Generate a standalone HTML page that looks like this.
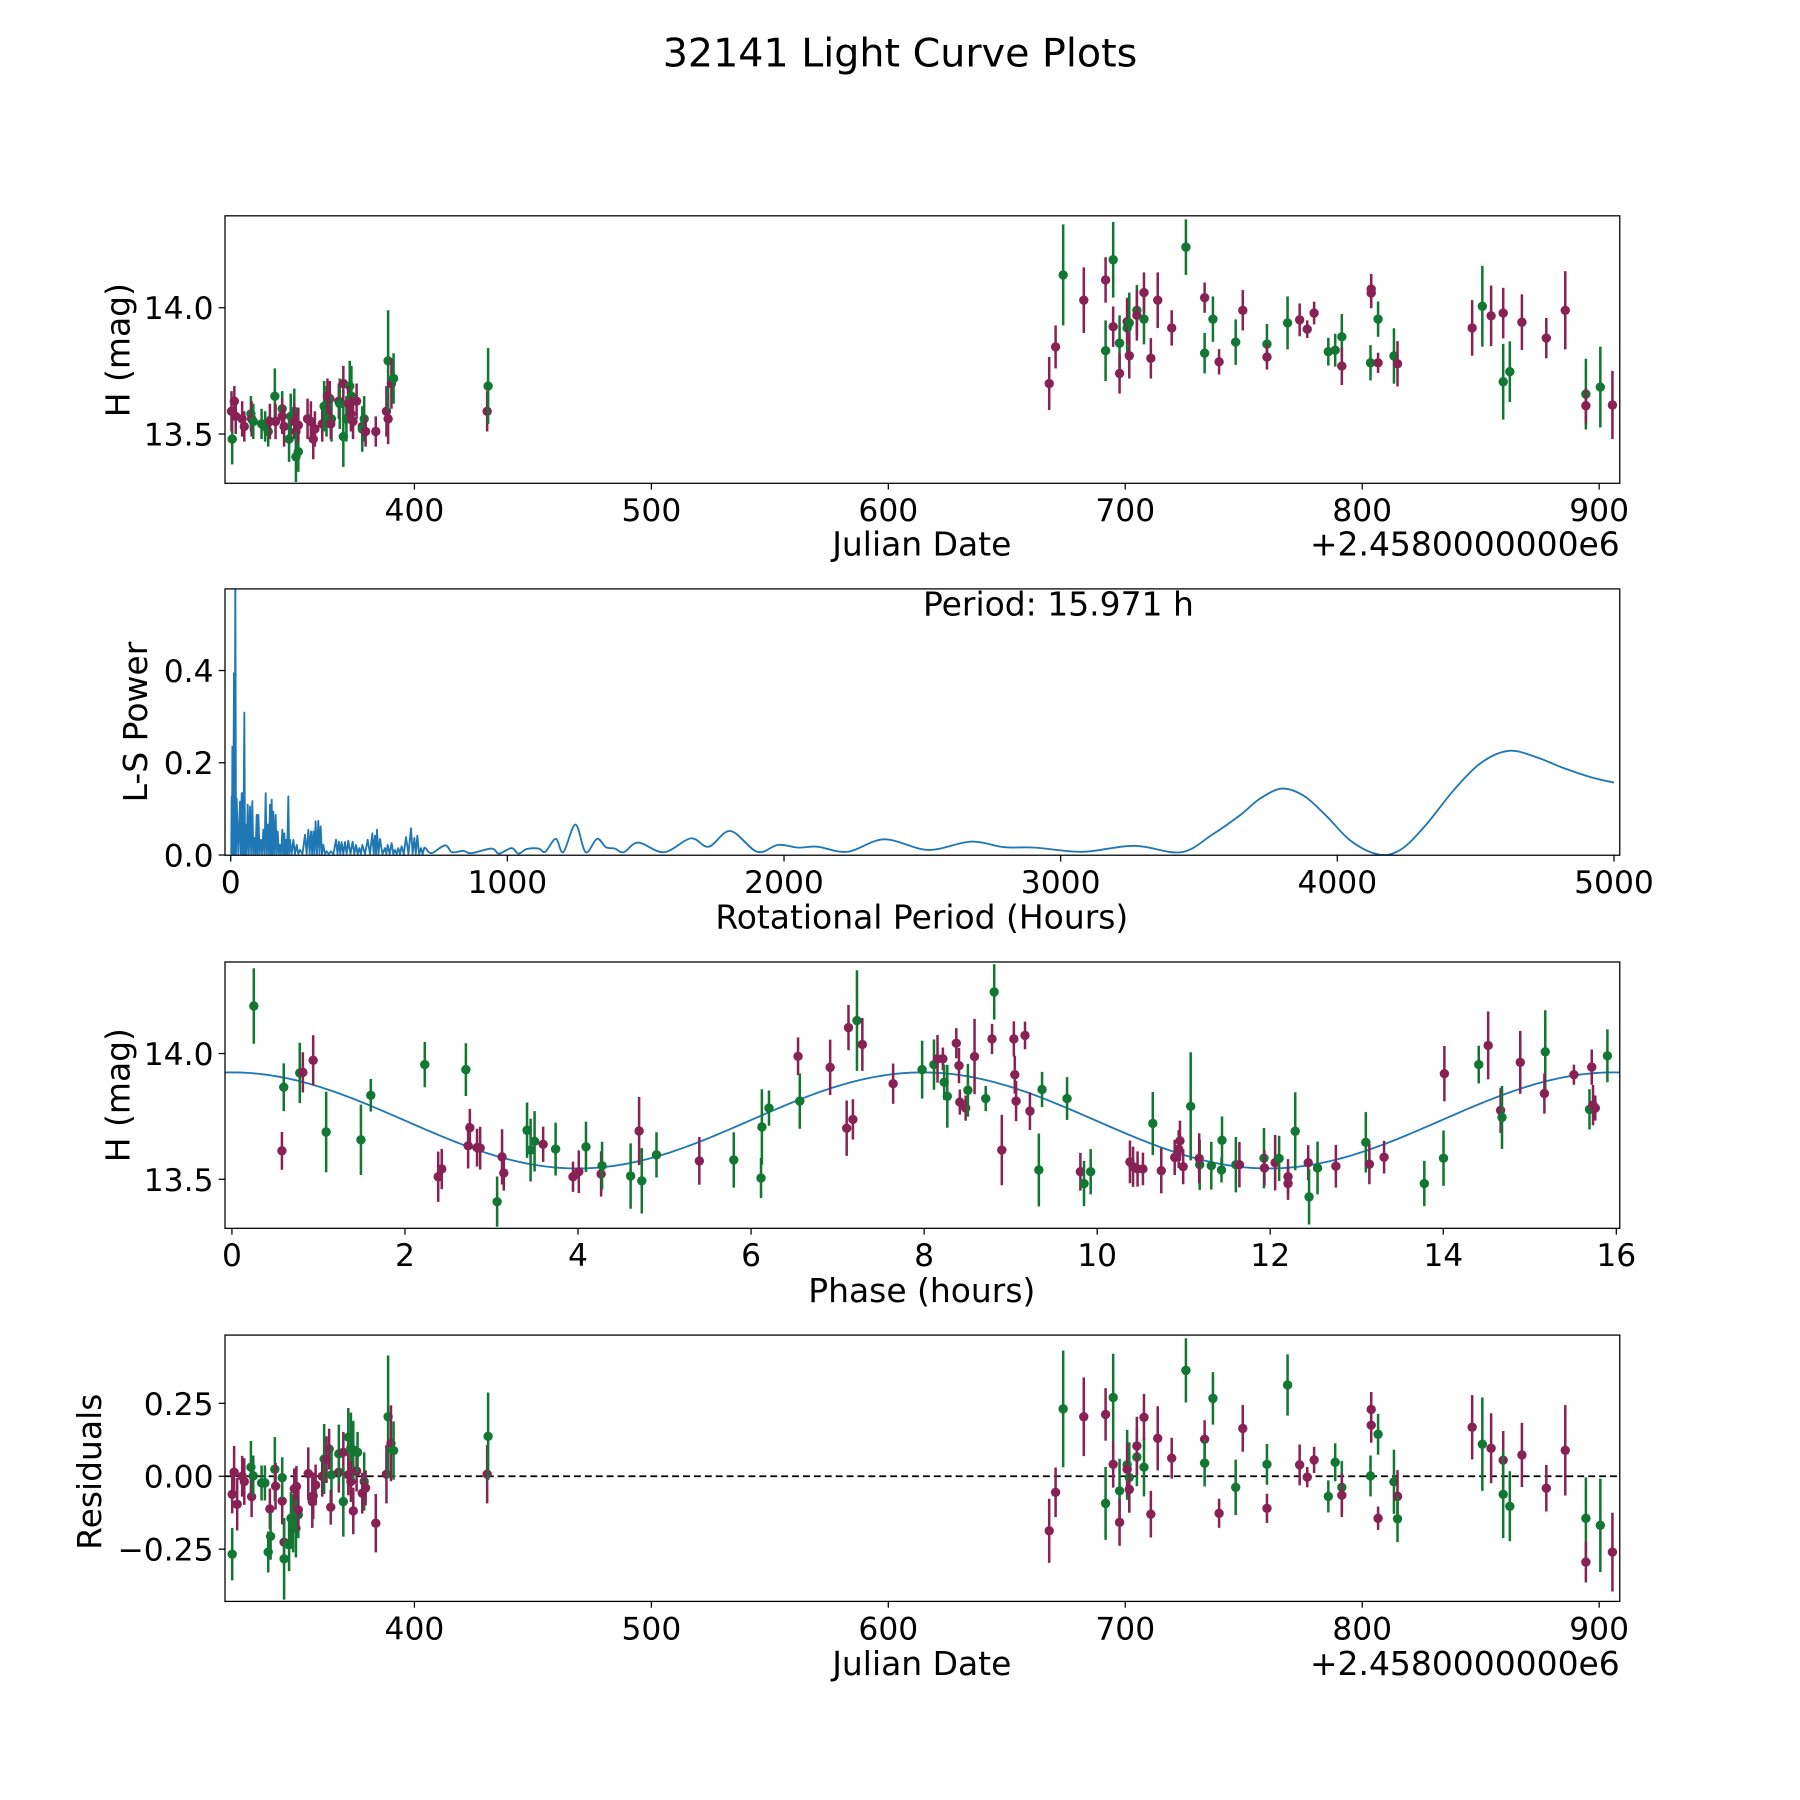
<!DOCTYPE html>
<html><head><meta charset="utf-8"><title>32141 Light Curve Plots</title>
<style>html,body{margin:0;padding:0;background:#fff}svg{display:block}text{font-family:"DejaVu Sans","Liberation Sans",sans-serif;fill:#000}</style>
</head><body>
<svg id="fig" xmlns="http://www.w3.org/2000/svg" width="1800" height="1800" viewBox="0 0 1568 1568">
<rect x="0" y="0" width="1568" height="1568" fill="#fff"/>
<text x="784" y="58" font-size="34.5" text-anchor="middle">32141 Light Curve Plots</text>
</svg>
<script>
// ---- Panel 1: magnitude vs Julian date ----
const p1Jd=[323.1,322.8,324,324.6,327.3,328.2,331,331.3,332,335.5,337,338.3,339,341.1,341.4,344.2,344.2,345,347.1,347.8,349.3,349.3,350,350,351,351,354.9,356.3,357.3,358,361.1,361.9,362.9,363.3,364.3,365,364.7,368.1,368.5,370,370,371.3,372.7,372,373.4,373.2,374.1,375.6,378.8,378,378,379.4,383.7,388.2,388.9,388.9,390.3,391.2,430.7,431.1,
667.9,670.6,673.8,682.5,691.7,691.7,694.9,694.9,697.6,697.6,700.8,700.8,701.7,701.7,704.9,704.9,707.9,707.9,710.8,713.7,719.6,725.6,733.5,733.5,737.0,739.6,746.6,749.6,759.8,759.8,768.5,773.6,776.8,779.7,785.7,788.6,791.4,791.4,803.8,803.8,806.7,803.5,806.7,813.4,814.9,846.4,850.7,854.4,859.5,859.5,862.3,867.4,877.7,885.7,894.4,894.4,900.5,905.6];
const p1Mag=[13.48,13.59,13.63,13.57,13.56,13.53,13.58,13.56,13.55,13.54,13.53,13.51,13.55,13.65,13.55,13.60,13.57,13.53,13.48,13.57,13.59,13.55,13.51,13.41,13.43,13.535,13.56,13.55,13.48,13.52,13.54,13.61,13.59,13.65,13.64,13.56,13.54,13.63,13.62,13.49,13.70,13.56,13.69,13.62,13.65,13.58,13.55,13.63,13.56,13.53,13.52,13.51,13.51,13.59,13.56,13.79,13.70,13.72,13.59,13.69,
13.70,13.845,14.13,14.03,14.11,13.83,14.19,13.925,13.86,13.74,13.92,13.945,13.94,13.81,13.99,13.97,13.955,14.06,13.80,14.03,13.92,14.24,14.04,13.82,13.955,13.786,13.864,13.99,13.856,13.805,13.94,13.952,13.915,13.979,13.826,13.832,13.885,13.769,14.074,14.058,13.955,13.782,13.782,13.809,13.778,13.92,14.006,13.968,13.979,13.707,13.747,13.943,13.88,13.99,13.658,13.612,13.686,13.615];
const p1Err=[0.10,0.08,0.06,0.07,0.07,0.06,0.07,0.07,0.07,0.06,0.06,0.06,0.07,0.11,0.07,0.07,0.07,0.08,0.09,0.09,0.09,0.07,0.07,0.10,0.08,0.07,0.08,0.08,0.08,0.07,0.07,0.10,0.10,0.07,0.07,0.09,0.06,0.07,0.10,0.12,0.07,0.09,0.10,0.07,0.12,0.07,0.07,0.07,0.09,0.07,0.09,0.06,0.06,0.10,0.10,0.20,0.10,0.10,0.08,0.15,
0.105,0.085,0.20,0.13,0.09,0.12,0.15,0.08,0.11,0.08,0.12,0.09,0.12,0.09,0.10,0.10,0.10,0.08,0.08,0.11,0.07,0.11,0.06,0.08,0.09,0.05,0.09,0.08,0.08,0.05,0.105,0.065,0.035,0.045,0.055,0.065,0.09,0.075,0.06,0.06,0.07,0.07,0.04,0.11,0.09,0.11,0.16,0.12,0.10,0.15,0.12,0.11,0.08,0.155,0.14,0.07,0.16,0.135];
const p1Band=['g','r','r','r','r','r','g','r','g','g','g','g','r','g','r','g','r','r','g','g','g','r','r','g','g','r','r','r','r','r','r','g','g','r','r','g','r','r','g','g','r','g','g','r','g','r','r','r','g','r','g','r','r','r','r','g','r','g','r','g',
'r','r','g','r','r','g','g','r','g','r','g','r','g','r','g','r','g','r','r','r','r','g','r','g','g','r','g','r','g','r','g','r','r','r','g','g','g','r','r','r','g','g','r','g','r','r','g','r','r','g','g','r','r','r','g','r','g','r'];

// ---- Panel 2: Lomb-Scargle periodogram ----
const spikePeriods=[3.4,5.8,11.8,16.6,21.5,33.5,39.5,42,49.2,54,61.2,69.7,78.1,85.3,93.8,99.8,109.4,117.9,126.3,133.5,142,148,154,162.4,169.7,178.1,186.5,193.8,199.8,208.2,214.2,226.3,238.3,250.4,268.4,280.5,290.1,298.6,306.7,316.6,325,334.7,346.8,362.4,380.5,391.3,401,413,425,440.7,452.8,464.8,475.7,495,511.8,521.5,528.7,539.5,557.6,567.2,581.7,593.7,605.8,617.8,633.5,651.6,663.6,674.5,687.7,699.8];
const spikePower=[0.127,0.235,0.394,0.62,0.123,0.116,0.134,0.134,0.309,0.066,0.109,0.105,0.117,0.037,0.087,0.087,0.033,0.055,0.134,0.066,0.109,0.12,0.094,0.087,0.051,0.022,0.055,0.047,0.033,0.127,0.033,0.033,0.022,0.011,0.044,0.055,0.051,0.051,0.073,0.074,0.062,0.022,0.008,0.008,0.033,0.029,0.028,0.028,0.031,0.029,0.022,0.015,0.022,0.033,0.047,0.042,0.055,0.035,0.015,0.022,0.026,0.011,0.015,0.019,0.039,0.058,0.037,0.042,0.015,0.016];
const smoothPeriods=[706,726,775,800,840,870,943,970,1015,1040,1070,1113,1137,1175,1202,1246,1283,1324,1356,1388,1421,1473,1566,1663,1728,1806,1903,1979,2052,2120,2230,2362,2521,2675,2796,2909,3079,3265,3435,3550,3650,3720,3800,3880,3960,4050,4150,4230,4320,4420,4520,4620,4720,4820,4920,5000];
const smoothPower=[0.014,0.004,0.021,0.006,0.009,0.004,0.014,0.003,0.015,0.003,0.013,0.014,0.007,0.035,0.006,0.066,0.006,0.035,0.017,0.014,0.006,0.027,0.006,0.036,0.018,0.052,0.007,0.022,0.016,0.018,0.007,0.034,0.011,0.029,0.017,0.016,0.007,0.020,0.006,0.045,0.087,0.122,0.144,0.128,0.085,0.030,0.001,0.012,0.065,0.140,0.200,0.226,0.212,0.188,0.168,0.157];
const periodLabel='Period: 15.971 h';

// ---- Panel 3: phase-folded ----
const p3Phase=[0.253,0.599,0.578,0.784,0.82,0.939,1.089,1.491,1.605,2.229,2.384,2.425,2.704,2.73,2.75,2.833,2.869,3.065,3.122,3.142,3.411,3.452,3.498,3.597,3.741,3.942,4.009,4.092,4.267,4.278,4.608,4.706,4.737,4.907,5.402,5.8,6.115,6.125,6.207,6.543,6.563,6.914,7.105,7.126,7.177,7.224,7.286,7.642,7.977,
8.114,8.155,8.217,8.232,8.268,8.372,8.403,8.413,8.48,8.506,8.583,8.712,8.785,8.81,8.898,9.037,9.048,9.063,9.166,9.223,9.326,9.363,9.652,9.806,9.848,9.925,10.379,10.415,10.467,10.529,10.643,10.741,10.896,10.942,10.957,10.994,11.081,11.185,11.179,11.319,11.437,11.443,11.603,11.644,11.928,11.933,12.057,12.103,12.206,12.206,12.289,12.439,12.449,12.547,12.759,13.105,13.146,13.316,13.781,14.003,14.013,14.41,14.519,14.663,14.679,14.89,15.179,15.169,15.51,15.69,15.716,15.731,15.757,15.897];
const p3Mag=[14.189,13.866,13.613,13.923,13.925,13.973,13.688,13.657,13.834,13.956,13.51,13.541,13.936,13.633,13.705,13.626,13.624,13.411,13.589,13.525,13.695,13.616,13.651,13.639,13.62,13.51,13.53,13.629,13.521,13.554,13.513,13.692,13.494,13.597,13.573,13.577,13.505,13.708,13.783,13.989,13.811,13.945,13.703,14.103,13.738,14.131,14.036,13.88,13.936,
13.956,13.979,13.979,13.886,13.83,14.041,13.952,13.807,13.783,13.854,13.988,13.821,14.058,14.245,13.616,14.058,13.916,13.811,14.072,13.771,13.537,13.857,13.821,13.53,13.483,13.53,13.569,13.55,13.541,13.541,13.722,13.534,13.587,13.62,13.653,13.55,13.79,13.558,13.583,13.554,13.537,13.655,13.558,13.558,13.584,13.545,13.566,13.583,13.51,13.483,13.691,13.566,13.43,13.545,13.552,13.647,13.56,13.588,13.483,13.584,13.92,13.956,14.032,13.774,13.746,13.965,14.007,13.841,13.916,13.778,13.946,13.795,13.783,13.991];
const p3Err=[0.15,0.095,0.075,0.12,0.08,0.10,0.16,0.14,0.065,0.09,0.10,0.08,0.105,0.09,0.075,0.075,0.085,0.10,0.11,0.07,0.11,0.125,0.12,0.07,0.105,0.06,0.085,0.10,0.09,0.095,0.13,0.135,0.13,0.09,0.095,0.11,0.08,0.15,0.07,0.075,0.11,0.11,0.11,0.09,0.08,0.20,0.105,0.08,0.115,
0.10,0.095,0.045,0.07,0.125,0.06,0.07,0.05,0.05,0.105,0.15,0.05,0.06,0.11,0.14,0.07,0.075,0.08,0.055,0.075,0.145,0.07,0.085,0.075,0.09,0.09,0.085,0.08,0.07,0.065,0.125,0.09,0.07,0.075,0.08,0.07,0.215,0.10,0.10,0.095,0.05,0.095,0.11,0.09,0.12,0.07,0.11,0.09,0.07,0.065,0.155,0.07,0.11,0.105,0.085,0.12,0.08,0.065,0.09,0.11,0.11,0.075,0.135,0.09,0.125,0.125,0.165,0.08,0.04,0.08,0.07,0.08,0.05,0.105];
const p3Band=['g','g','r','g','r','r','g','g','g','g','r','r','g','r','r','r','r','g','r','r','g','g','g','r','g','r','r','g','r','g','g','r','g','g','r','g','g','g','g','r','g','r','r','r','r','g','r','r','g',
'g','r','r','g','g','r','r','r','r','g','r','g','r','g','r','r','r','r','r','r','g','g','g','r','g','g','r','r','r','r','g','r','r','r','r','r','g','g','r','g','g','g','g','r','g','r','r','g','r','r','g','r','g','g','r','g','r','r','g','g','r','g','r','r','g','r','g','r','r','g','r','r','r','g'];
// sinusoidal fit: [offset, amplitude, period (h), harmonics per period]
const fitParams=[13.734,0.191,15.971,2];

// ---- Panel 4: residuals ----
const p4Jd=[323.1,323.1,323.9,325.2,327.3,328.2,331,331.3,332,335.5,336.9,339,338.3,339.3,341.1,341.4,344.2,344.2,345,345,347.1,347.9,348.8,349.3,350.2,350,351,351,355.2,356.9,357.3,358.3,361.1,361.9,362.9,364,365,364.7,368.1,368.1,370,370,372.1,372.1,373.2,373.2,374.2,374.2,375.6,376,378.8,378,379.4,383.7,388.2,388.9,390.1,391.2,430.7,431.1,
667.9,670.6,673.8,682.5,691.7,691.7,694.9,694.9,697.6,697.6,700.8,700.8,701.7,701.7,704.9,704.9,707.9,707.9,710.8,713.7,719.6,725.6,733.5,733.5,737,739.6,746.6,749.6,759.8,759.8,768.5,773.6,776.8,779.7,785.7,788.6,791.4,791.4,803.8,803.8,806.7,803.5,806.7,813.4,814.9,814.9,846.4,850.7,854.4,859.5,859.5,862.3,867.4,877.7,885.7,894.4,894.4,900.5,905.6];
const p4Res=[-0.267,-0.062,0.014,-0.096,0.0,-0.018,0.031,-0.07,0.001,-0.023,-0.023,-0.112,-0.26,-0.206,0.024,-0.034,-0.085,-0.005,-0.226,-0.283,-0.235,-0.144,-0.161,-0.043,-0.035,-0.178,-0.132,-0.115,0.009,-0.087,-0.067,-0.03,0.0,0.059,0.057,0.093,0.005,-0.106,0.014,0.077,0.082,-0.087,0.134,0.005,0.098,-0.018,-0.119,0.09,0.018,0.082,-0.018,-0.058,-0.04,-0.161,0.007,0.204,0.113,0.088,0.007,0.137,
-0.187,-0.055,0.231,0.204,0.212,-0.093,0.27,0.041,-0.05,-0.158,0.039,0.024,-0.004,-0.045,0.066,0.104,0.031,0.202,-0.13,0.13,0.062,0.363,0.127,0.045,0.267,-0.127,-0.038,0.164,0.041,-0.11,0.313,0.039,-0.003,0.056,-0.069,0.048,-0.038,-0.065,0.229,0.175,0.144,0.001,-0.144,-0.019,-0.069,-0.146,0.168,0.11,0.096,0.055,-0.062,-0.103,0.073,-0.041,0.089,-0.144,-0.294,-0.168,-0.26];
const p4Err=[0.09,0.065,0.09,0.09,0.07,0.08,0.09,0.07,0.07,0.06,0.06,0.07,0.07,0.08,0.11,0.08,0.08,0.07,0.08,0.14,0.09,0.09,0.10,0.07,0.07,0.10,0.08,0.07,0.09,0.09,0.08,0.07,0.07,0.12,0.08,0.07,0.10,0.06,0.07,0.10,0.07,0.12,0.10,0.07,0.12,0.07,0.08,0.10,0.07,0.07,0.10,0.07,0.06,0.10,0.10,0.21,0.13,0.10,0.10,0.15,
0.11,0.085,0.20,0.135,0.09,0.125,0.15,0.08,0.11,0.08,0.12,0.09,0.12,0.08,0.10,0.10,0.10,0.08,0.08,0.11,0.07,0.11,0.065,0.08,0.09,0.05,0.095,0.08,0.07,0.05,0.105,0.07,0.035,0.045,0.055,0.065,0.09,0.075,0.06,0.06,0.07,0.07,0.04,0.11,0.09,0.08,0.11,0.16,0.12,0.10,0.15,0.12,0.11,0.08,0.155,0.14,0.07,0.16,0.135];
const p4Band=['g','r','r','r','r','r','g','r','g','g','g','r','g','g','g','r','r','g','r','g','g','g','g','r','r','g','g','r','r','r','r','r','r','g','r','r','g','r','r','g','r','g','g','r','g','r','r','g','r','g','g','r','r','r','r','g','r','g','r','g',
'r','r','g','r','r','g','g','r','g','r','g','r','g','r','g','r','g','r','r','r','r','g','r','g','g','r','g','r','g','r','g','r','r','r','g','g','g','r','r','r','g','g','r','g','r','g','r','g','r','r','g','g','r','r','r','g','r','g','r'];

// ---- tick labels ----
const jdTicks=[400,500,600,700,800,900];
const magTicks=[13.5,14.0];
const lsXTicks=[0,1000,2000,3000,4000,5000];
const lsYTicks=[0.0,0.2,0.4];
const phaseTicks=[0,2,4,6,8,10,12,14,16];
const resTicks=[-0.25,0.00,0.25];

const NS='http://www.w3.org/2000/svg';
const svg=document.getElementById('fig');
const GREEN='#117733', MAROON='#882255', BLUE='#1f77b4';
function mk(tag,attrs,parent){const e=document.createElementNS(NS,tag);for(const k in attrs)e.setAttribute(k,attrs[k]);(parent||svg).appendChild(e);return e;}
function axis(L,R,T,B,xmin,xmax,ymin,ymax){return {L,R,T,B,x:v=>L+(v-xmin)/(xmax-xmin)*(R-L),y:v=>B-(v-ymin)/(ymax-ymin)*(B-T)};}
let clipN=0;
function frame(ax,name){
  const g=mk('g',{});
  
  
  const id='clip'+(clipN++);
  const cp=mk('clipPath',{id:id},g);mk('rect',{x:ax.L,y:ax.T,width:ax.R-ax.L,height:ax.B-ax.T},cp);
  const plot=mk('g',{'clip-path':'url(#'+id+')'},g);
  
  
  return {g,plot};
}
function spines(ax,g){const r=mk('rect',{x:ax.L,y:ax.T,width:ax.R-ax.L,height:ax.B-ax.T,fill:'none',stroke:'#000','stroke-width':1.1},g);
  }
function xticks(ax,g,vals,fmt,name){vals.forEach(v=>{const X=ax.x(v);
  mk('line',{x1:X,x2:X,y1:ax.B,y2:ax.B+5.5,stroke:'#000','stroke-width':1.1},g);
  const t=mk('text',{x:X,y:ax.B+33,'font-size':27.3,'text-anchor':'middle'},g);t.textContent=fmt(v);
  });}
function yticks(ax,g,vals,fmt,name){vals.forEach(v=>{const Y=ax.y(v);
  mk('line',{x1:ax.L-5.5,x2:ax.L,y1:Y,y2:Y,stroke:'#000','stroke-width':1.1},g);
  const t=mk('text',{x:ax.L-10,y:Y+10,'font-size':27.3,'text-anchor':'end'},g);t.textContent=fmt(v);
  });}
function label(txt,x,y,rot,g,name){const t=mk('text',{x:x,y:y,'font-size':28.7,'text-anchor':'middle'},g);
  if(rot)t.setAttribute('transform','rotate(-90 '+x+' '+y+')');t.textContent=txt;
  return t;}
function errPoints(ax,plot,xs,ys,es,bands,name){for(let i=0;i<xs.length;i++){const c=bands[i]==='g'?GREEN:MAROON;const X=ax.x(xs[i]);
  const ln=mk('line',{x1:X,x2:X,y1:ax.y(ys[i]-es[i]),y2:ax.y(ys[i]+es[i]),stroke:c,'stroke-width':2.2},plot);
  
  const p=mk('circle',{cx:X,cy:ax.y(ys[i]),r:4.1,fill:c},plot);
  }}
const fmtInt=v=>String(v), fmt1=v=>v.toFixed(1), fmt2=v=>(v<0?'\u2212':'')+Math.abs(v).toFixed(2);

// Panel 1
const a1=axis(196,1411,188,421,320.06,908.7,13.305,14.364);
const f1=frame(a1,'lightcurve-panel');
errPoints(a1,f1.plot,p1Jd,p1Mag,p1Err,p1Band,'lightcurve');
spines(a1,f1.g);xticks(a1,f1.g,jdTicks,fmtInt,'x-tick-label');yticks(a1,f1.g,magTicks,fmt1,'y-tick-label');
label('Julian Date',803,484,false,f1.g,'x-axis-title');
label('H (mag)',113,305,true,f1.g,'y-axis-title');
let off=mk('text',{x:1411,y:484,'font-size':28.7,'text-anchor':'end'},f1.g);off.textContent='+2.4580000000e6';


// Panel 2
const a2=axis(196,1411,513,745,-20.7,5021,-0.0005,0.577);
const f2=frame(a2,'periodogram-panel');
let d='';
for(let i=0;i<spikePeriods.length;i++){
  const prev=i===0?0:spikePeriods[i-1];
  const mid=(prev+spikePeriods[i])/2;
  d+=(i===0?'M':'L')+a2.x(mid).toFixed(2)+','+a2.y(0.002).toFixed(2);
  d+='L'+a2.x(spikePeriods[i]).toFixed(2)+','+a2.y(spikePower[i]).toFixed(2);
}
const sp=smoothPeriods.map(a2.x), sw=smoothPower.map(a2.y);
d+='L'+sp[0].toFixed(2)+','+sw[0].toFixed(2);
for(let i=0;i<sp.length-1;i++){
  const p0x=sp[Math.max(0,i-1)],p0y=sw[Math.max(0,i-1)],p3x=sp[Math.min(sp.length-1,i+2)],p3y=sw[Math.min(sp.length-1,i+2)];
  const c1x=sp[i]+(sp[i+1]-p0x)/6,c1y=sw[i]+(sw[i+1]-p0y)/6,c2x=sp[i+1]-(p3x-sp[i])/6,c2y=sw[i+1]-(p3y-sw[i])/6;
  d+='C'+c1x.toFixed(2)+','+c1y.toFixed(2)+' '+c2x.toFixed(2)+','+c2y.toFixed(2)+' '+sp[i+1].toFixed(2)+','+sw[i+1].toFixed(2);
}
const lsLine=mk('path',{d:d,fill:'none',stroke:BLUE,'stroke-width':1.6,'stroke-linejoin':'round'},f2.plot);

spines(a2,f2.g);xticks(a2,f2.g,lsXTicks,fmtInt,'x-tick-label');yticks(a2,f2.g,lsYTicks,fmt1,'y-tick-label');
label('Rotational Period (Hours)',803,809,false,f2.g,'x-axis-title');
label('L-S Power',128,629,true,f2.g,'y-axis-title');
let pl=mk('text',{x:922,y:536,'font-size':28.7,'text-anchor':'middle'},f2.g);pl.textContent=periodLabel;


// Panel 3
const a3=axis(196,1411,838,1070,-0.08,16.04,13.305,14.364);
const f3=frame(a3,'phase-panel');
let fd='';
for(let k=0;k<=400;k++){const ph=-0.1+k*(16.2/400);
  const m=fitParams[0]+fitParams[1]*Math.cos(2*Math.PI*fitParams[3]*ph/fitParams[2]);
  fd+=(k?'L':'M')+a3.x(ph).toFixed(2)+','+a3.y(m).toFixed(2);}
const fit=mk('path',{d:fd,fill:'none',stroke:BLUE,'stroke-width':1.6},f3.plot);

errPoints(a3,f3.plot,p3Phase,p3Mag,p3Err,p3Band,'phase');
spines(a3,f3.g);xticks(a3,f3.g,phaseTicks,fmtInt,'x-tick-label');yticks(a3,f3.g,magTicks,fmt1,'y-tick-label');
label('Phase (hours)',803,1134,false,f3.g,'x-axis-title');
label('H (mag)',113,954,true,f3.g,'y-axis-title');

// Panel 4
const a4=axis(196,1411,1163,1395,320.06,908.7,-0.429,0.484);
const f4=frame(a4,'residuals-panel');
const zl=mk('line',{x1:a4.L,x2:a4.R,y1:a4.y(0),y2:a4.y(0),stroke:'#000','stroke-width':1.6,'stroke-dasharray':'6,3.5'},f4.plot);

errPoints(a4,f4.plot,p4Jd,p4Res,p4Err,p4Band,'residual');
spines(a4,f4.g);xticks(a4,f4.g,jdTicks,fmtInt,'x-tick-label');yticks(a4,f4.g,resTicks,fmt2,'y-tick-label');
label('Julian Date',803,1459,false,f4.g,'x-axis-title');
label('Residuals',88,1282,true,f4.g,'y-axis-title');
off=mk('text',{x:1411,y:1459,'font-size':28.7,'text-anchor':'end'},f4.g);off.textContent='+2.4580000000e6';

</script>
</body></html>
